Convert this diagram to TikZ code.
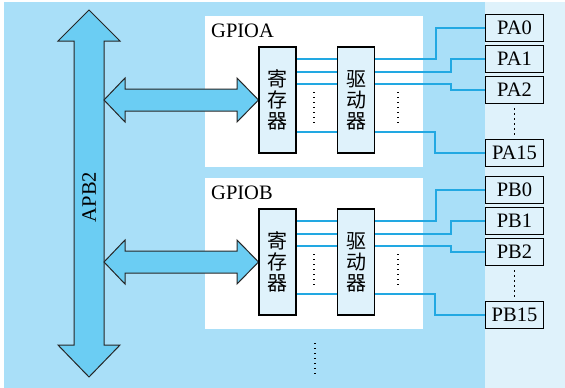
\documentclass[tikz,border=0pt]{standalone}
\usepackage{fontspec}
\setmainfont{Liberation Serif}
\newfontfamily\cjk{Noto Sans CJK SC}
\usetikzlibrary{calc}
\definecolor{busblue}{HTML}{A9DFF8}
\definecolor{paleblue}{HTML}{DFF2FB}
\definecolor{arrowblue}{HTML}{6BCDF3}
\definecolor{wireblue}{HTML}{22A8E2}
\begin{document}
\begin{tikzpicture}[x=1pt,y=-1pt,
    unit/.style={draw=black, line width=1.5pt, fill=paleblue, minimum width=37pt,
      minimum height=106pt, inner sep=0pt, align=center,
      font=\cjk\fontsize{20}{21}\selectfont},
    pin/.style={draw=black, line width=1.5pt, fill=paleblue, minimum width=58pt,
      minimum height=27pt, inner sep=0pt, font=\fontsize{20.5}{22}\selectfont},
    wire/.style={wireblue, line width=1.2pt},
    dots/.style={line width=1.3pt, dash pattern=on 1.3pt off 3.7pt},
    fat/.style={draw=black!85, line width=1pt, fill=arrowblue, line join=miter}]
  \useasboundingbox (0,0) rectangle (565,388);
  \fill[busblue] (4,2) rectangle (485,388);
  \fill[paleblue] (485,2) rectangle (565,388);

  % APB2 bus
  \draw[fat] (89,10) -- (120,41) -- (104,41) -- (104,345) -- (120,345)
    -- (89,377) -- (58,345) -- (74,345) -- (74,41) -- (58,41) -- cycle;
  \node[rotate=90, font=\fontsize{20.5}{22}\selectfont] (apb) at (89,197) {APB2};
  \coordinate (bus) at (104,0);

  \foreach \g/\dy in {A/0,B/162}{
    \fill[white] (205,16+\dy) rectangle (423,167+\dy);
    \node[anchor=base west, inner sep=0pt, font=\fontsize{20.5}{22}\selectfont]
      (gpio\g) at (211,37+\dy) {GPIO\g};
    % bus to register arrow
    \draw[fat] (bus |- 0,100+\dy) -- ++(21,-22) -- ++(0,11) -- (237,89+\dy)
      -- ++(0,-11) -- (258.5,100+\dy) -- ++(-21.5,22) -- ++(0,-11)
      -- (125,111+\dy) -- ++(0,11) -- cycle;
    \node[unit] (reg\g) at (277.5,100+\dy) {寄\\存\\器};
    \node[unit] (drv\g) at (356,100+\dy) {驱\\动\\器};
    \node[pin] (P\g0) at (514.5,28+\dy) {P\g0};
    \node[pin] (P\g1) at (514.5,59+\dy) {P\g1};
    \node[pin] (P\g2) at (514.5,90+\dy) {P\g2};
    \node[pin] (P\g15) at (514.5,153+\dy) {P\g15};
    \foreach \y/\jx/\p in {59/436/0, 72/451/1, 84/451/2, 132/435/15}{
      \draw[wire] (reg\g.east |- 0,\y+\dy) -- (drv\g.west |- 0,\y+\dy);
      \draw[wire] (drv\g.east |- 0,\y+\dy) -- (\jx,\y+\dy) |- (P\g\p.west);
    }
    \draw[dots] (314,92+\dy) -- (314,124+\dy);
    \draw[dots] (398,92+\dy) -- (398,124+\dy);
    \draw[dots] ($(P\g2.south)+(0,4)$) -- ($(P\g15.north)+(0,-3)$);
  }
  \draw[dots] (315,343) -- (315,375);
\end{tikzpicture}
\end{document}
